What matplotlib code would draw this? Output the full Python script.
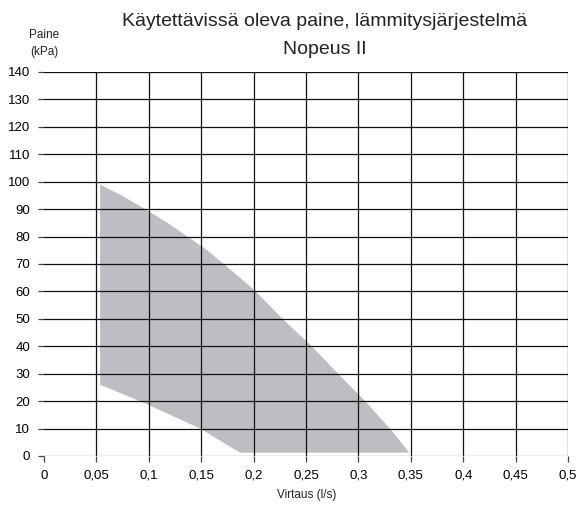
import matplotlib
matplotlib.use("Agg")
import matplotlib.pyplot as plt

plt.rcParams['font.family'] = ['Liberation Sans', 'DejaVu Sans']

# upper and lower edge of the available pressure area
upper_flow = [0.0535, 0.075, 0.0964, 0.117, 0.137, 0.155, 0.1715, 0.187, 0.202, 0.2276, 0.2555, 0.2805, 0.3065, 0.330, 0.3486]
upper_kpa = [99, 94.8, 90, 85.2, 80, 75.2, 70, 65, 60, 50, 40, 30, 20, 10, 1.2]
lower_flow = [0.0535, 0.0916, 0.149, 0.187, 0.3486]
lower_kpa = [26, 20, 10, 1.2, 1.2]

x_ticks = [0, 0.05, 0.1, 0.15, 0.2, 0.25, 0.3, 0.35, 0.4, 0.45, 0.5]
x_labels = ['0', '0,05', '0,1', '0,15', '0,2', '0,25', '0,3', '0,35', '0,4', '0,45', '0,5']
y_ticks = list(range(0, 141, 10))

fig = plt.figure(figsize=(5.82, 5.08), dpi=100)
ax = fig.add_axes([44 / 582, 1 - 456 / 508, 524 / 582, 384 / 508])

poly_x = list(upper_flow) + list(lower_flow[::-1])
poly_y = list(upper_kpa) + list(lower_kpa[::-1])
ax.fill(poly_x, poly_y, color='#bdbec2', lw=0, zorder=1)

for xt in x_ticks[1:]:
    ax.axvline(xt, color='#111111', lw=0.9, zorder=2)
for yt in y_ticks[1:]:
    ax.axhline(yt, color='#111111', lw=0.9, zorder=2)
ax.axhline(0, color='#9a9a9a', lw=1.0, zorder=2)

ax.set_xlim(0, 0.5)
ax.set_ylim(0, 140)
for s in ax.spines.values():
    s.set_visible(False)
ax.set_xticks(x_ticks)
ax.set_xticklabels(x_labels)
ax.set_yticks(y_ticks)
ax.tick_params(axis='both', labelsize=9.5, length=4, width=0.9, color='#444444', pad=6)

fig.text(325 / 582, 1 - 22 / 508, 'Käytettävissä oleva paine, lämmitysjärjestelmä',
         ha='center', va='center', fontsize=14, color='#222222')
fig.text(325 / 582, 1 - 50 / 508, 'Nopeus II',
         ha='center', va='center', fontsize=14, color='#222222')
fig.text(44 / 582, 1 - 35 / 508, 'Paine', ha='center', va='center', fontsize=8.5, color='#222222')
fig.text(44 / 582, 1 - 52 / 508, '(kPa)', ha='center', va='center', fontsize=8.5, color='#222222')
fig.text(307 / 582, 1 - 495 / 508, 'Virtaus (l/s)', ha='center', va='center', fontsize=8.5, color='#222222')

fig.savefig('out.png', dpi=100)
